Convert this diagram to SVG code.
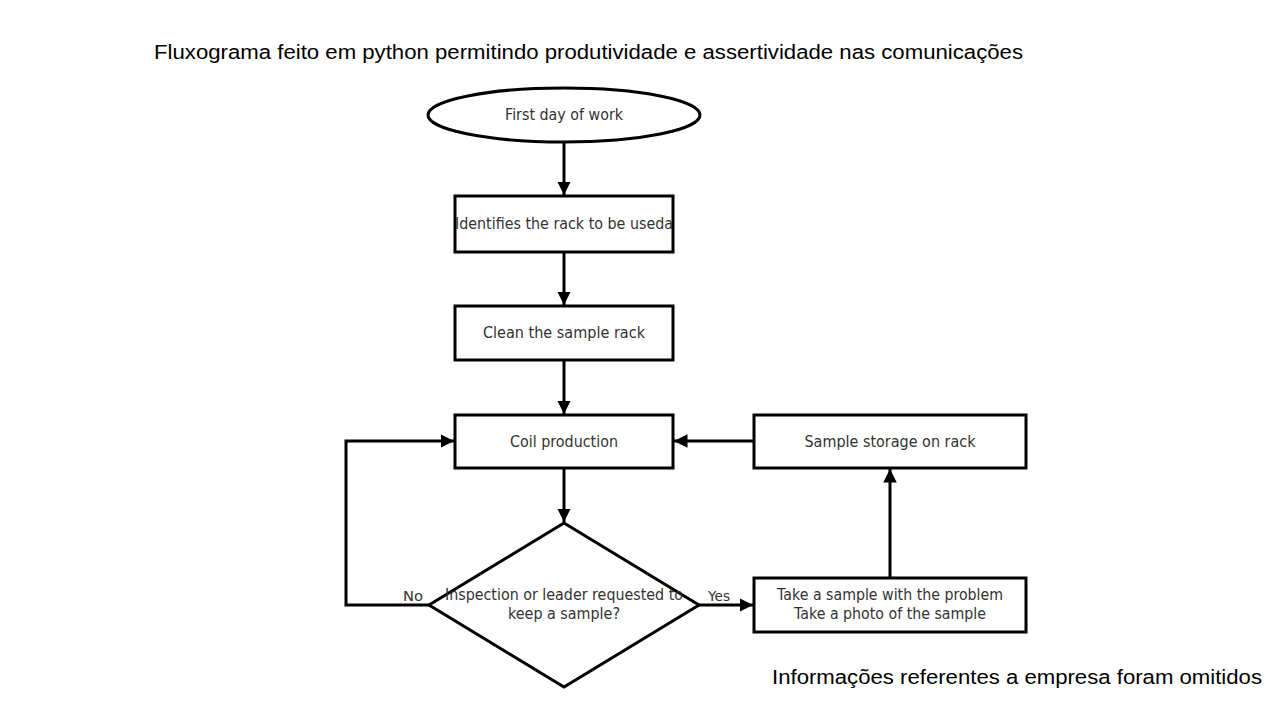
<svg xmlns="http://www.w3.org/2000/svg" width="1280" height="720" viewBox="0 0 1280 720">
<defs>
<marker id="arr" viewBox="0 0 10 10" refX="10" refY="5" markerWidth="4.5" markerHeight="4.5" orient="auto" markerUnits="strokeWidth">
<path d="M0,0 L10,5 L0,10 z" fill="#000"/>
</marker>
<style>
.shape{fill:#fff;stroke:#000;stroke-width:3}
.conn{fill:none;stroke:#000;stroke-width:3}
.lbl{font-family:"DejaVu Sans",sans-serif;font-size:15px;fill:#333;text-anchor:middle}
.side{font-family:"DejaVu Sans",sans-serif;font-size:14px;fill:#333}
.cap{font-family:"Liberation Sans",Arial,sans-serif;font-size:20px;fill:#000}
</style>
</defs>
<rect width="1280" height="720" fill="#fff"/>
<text class="cap" x="154" y="59" textLength="869" lengthAdjust="spacingAndGlyphs">Fluxograma feito em python permitindo produtividade e assertividade nas comunicações</text>
<text class="cap" x="772" y="684" textLength="490" lengthAdjust="spacingAndGlyphs">Informações referentes a empresa foram omitidos</text>
<g id="connectors">
<line class="conn" x1="564" y1="142" x2="564" y2="195" marker-end="url(#arr)"/>
<line class="conn" x1="564" y1="252" x2="564" y2="305" marker-end="url(#arr)"/>
<line class="conn" x1="564" y1="360" x2="564" y2="414" marker-end="url(#arr)"/>
<line class="conn" x1="564" y1="468" x2="564" y2="522" marker-end="url(#arr)"/>
<polyline class="conn" points="429,605 346,605 346,441 454,441" marker-end="url(#arr)"/>
<line class="conn" x1="699" y1="605" x2="753" y2="605" marker-end="url(#arr)"/>
<line class="conn" x1="890" y1="578" x2="890" y2="469" marker-end="url(#arr)"/>
<line class="conn" x1="754" y1="441" x2="674" y2="441" marker-end="url(#arr)"/>
<text class="side" x="403" y="601" textLength="20" lengthAdjust="spacingAndGlyphs">No</text>
<text class="side" x="708" y="601" textLength="22" lengthAdjust="spacingAndGlyphs">Yes</text>
</g>
<g id="start">
<ellipse class="shape" cx="564" cy="115" rx="136" ry="27"/>
<text class="lbl" x="564" y="120" textLength="118" lengthAdjust="spacingAndGlyphs">First day of work</text>
</g>
<g id="identify">
<rect class="shape" x="455" y="196" width="218" height="56"/>
<text class="lbl" x="564" y="229" textLength="218" lengthAdjust="spacingAndGlyphs">Identifies the rack to be useda</text>
</g>
<g id="clean">
<rect class="shape" x="455" y="306" width="218" height="54"/>
<text class="lbl" x="564" y="338" textLength="162" lengthAdjust="spacingAndGlyphs">Clean the sample rack</text>
</g>
<g id="coil">
<rect class="shape" x="455" y="415" width="218" height="53"/>
<text class="lbl" x="564" y="447" textLength="108" lengthAdjust="spacingAndGlyphs">Coil production</text>
</g>
<g id="storage">
<rect class="shape" x="754" y="415" width="272" height="53"/>
<text class="lbl" x="890" y="447" textLength="171" lengthAdjust="spacingAndGlyphs">Sample storage on rack</text>
</g>
<g id="decision">
<polygon class="shape" points="564,523 699,605 564,687 429,605"/>
<text class="lbl" x="564" y="600" textLength="238" lengthAdjust="spacingAndGlyphs">Inspection or leader requested to</text>
<text class="lbl" x="564" y="619" textLength="112" lengthAdjust="spacingAndGlyphs">keep a sample?</text>
</g>
<g id="takesample">
<rect class="shape" x="754" y="578" width="272" height="54"/>
<text class="lbl" x="890" y="600" textLength="226" lengthAdjust="spacingAndGlyphs">Take a sample with the problem</text>
<text class="lbl" x="890" y="619" textLength="192" lengthAdjust="spacingAndGlyphs">Take a photo of the sample</text>
</g>
</svg>
